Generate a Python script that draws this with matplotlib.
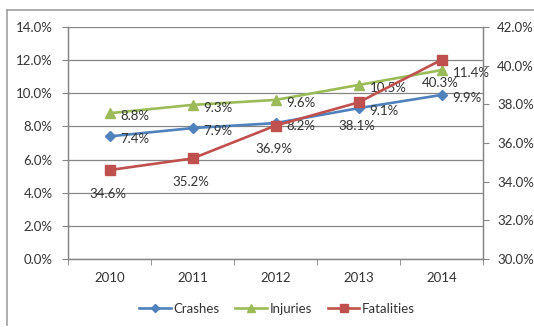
import matplotlib
matplotlib.use("Agg")
import matplotlib.pyplot as plt
from matplotlib.lines import Line2D
from matplotlib.ticker import FuncFormatter, MultipleLocator

years = ["2010", "2011", "2012", "2013", "2014"]
crashes = [7.4, 7.9, 8.2, 9.1, 9.9]
injuries = [8.8, 9.3, 9.6, 10.5, 11.4]
fatalities = [34.6, 35.2, 36.9, 38.1, 40.3]

blue = "#4F81BD"
green = "#9BBB59"
red = "#C0504D"
grid_c = "#868686"
txt_c = "#333333"

plt.rcParams['font.family'] = ['Lato', 'DejaVu Sans']
fs = 9.5

fig = plt.figure(figsize=(5.34, 3.27), dpi=100)
ax = fig.add_axes([68/534, 1-259/327, (483-68)/534, (259-27)/327])
ax2 = ax.twinx()

x = list(range(len(years)))
ax.plot(x, crashes, color=blue, lw=1.9, marker="D", ms=5.5, label="Crashes", zorder=3)
ax.plot(x, injuries, color=green, lw=1.9, marker="^", ms=7, label="Injuries", zorder=3)
ax2.plot(x, fatalities, color=red, lw=1.9, marker="s", ms=7, label="Fatalities", zorder=3)

ax.set_xlim(-0.5, 4.5)
ax.set_ylim(0, 14)
ax2.set_ylim(30, 42)
ax.yaxis.set_major_locator(MultipleLocator(2))
ax2.yaxis.set_major_locator(MultipleLocator(2))
fmt = FuncFormatter(lambda v, p: f"{v:.1f}%")
ax.yaxis.set_major_formatter(fmt)
ax2.yaxis.set_major_formatter(fmt)
ax.set_xticks(x)
ax.set_xticklabels(years)
ax.set_xticks([i - 0.5 for i in range(6)], minor=True)

ax.grid(axis="y", color=grid_c, lw=0.9)
ax.set_axisbelow(True)
for a in (ax, ax2):
    a.spines["top"].set_visible(False)
    for s in ("left", "right", "bottom"):
        a.spines[s].set_color(grid_c)
        a.spines[s].set_linewidth(0.9)
ax.tick_params(axis="x", which="major", length=0, pad=9, labelsize=fs, labelcolor=txt_c)
ax.tick_params(axis="x", which="minor", length=4, color=grid_c, direction="out")
ax.tick_params(axis="y", length=4, color=grid_c, pad=7, labelsize=fs, labelcolor=txt_c)
ax2.tick_params(axis="y", length=4, color=grid_c, pad=6, labelsize=fs, labelcolor=txt_c)

for xi, v in zip(x, crashes):
    ax.annotate(f"{v:.1f}%", (xi, v), xytext=(8, -2), textcoords="offset points",
                ha="left", va="center", fontsize=fs, color=txt_c)
for xi, v in zip(x, injuries):
    ax.annotate(f"{v:.1f}%", (xi, v), xytext=(8, -2), textcoords="offset points",
                ha="left", va="center", fontsize=fs, color=txt_c)
for xi, v in zip(x, fatalities):
    ax2.annotate(f"{v:.1f}%", (xi, v), xytext=(-1, -17), textcoords="offset points",
                 ha="center", va="center", fontsize=fs, color=txt_c)

h1, l1 = ax.get_legend_handles_labels()
h2, l2 = ax2.get_legend_handles_labels()
fig.legend(h1 + h2, l1 + l2, loc="center", bbox_to_anchor=(277/534, 1-309/327), ncol=3,
           frameon=False, fontsize=fs, handlelength=2.4, handletextpad=0.2,
           columnspacing=1.2, labelcolor=txt_c, markerscale=0.8)

fig.add_artist(Line2D([7/534, 7/534], [1-325/327, 1-10/327], color="#A0A0A0", lw=1.2))
fig.add_artist(Line2D([7/534, 1.0], [1-10/327, 1-10/327], color="#A0A0A0", lw=1.2))

fig.savefig("out.png", dpi=100)
